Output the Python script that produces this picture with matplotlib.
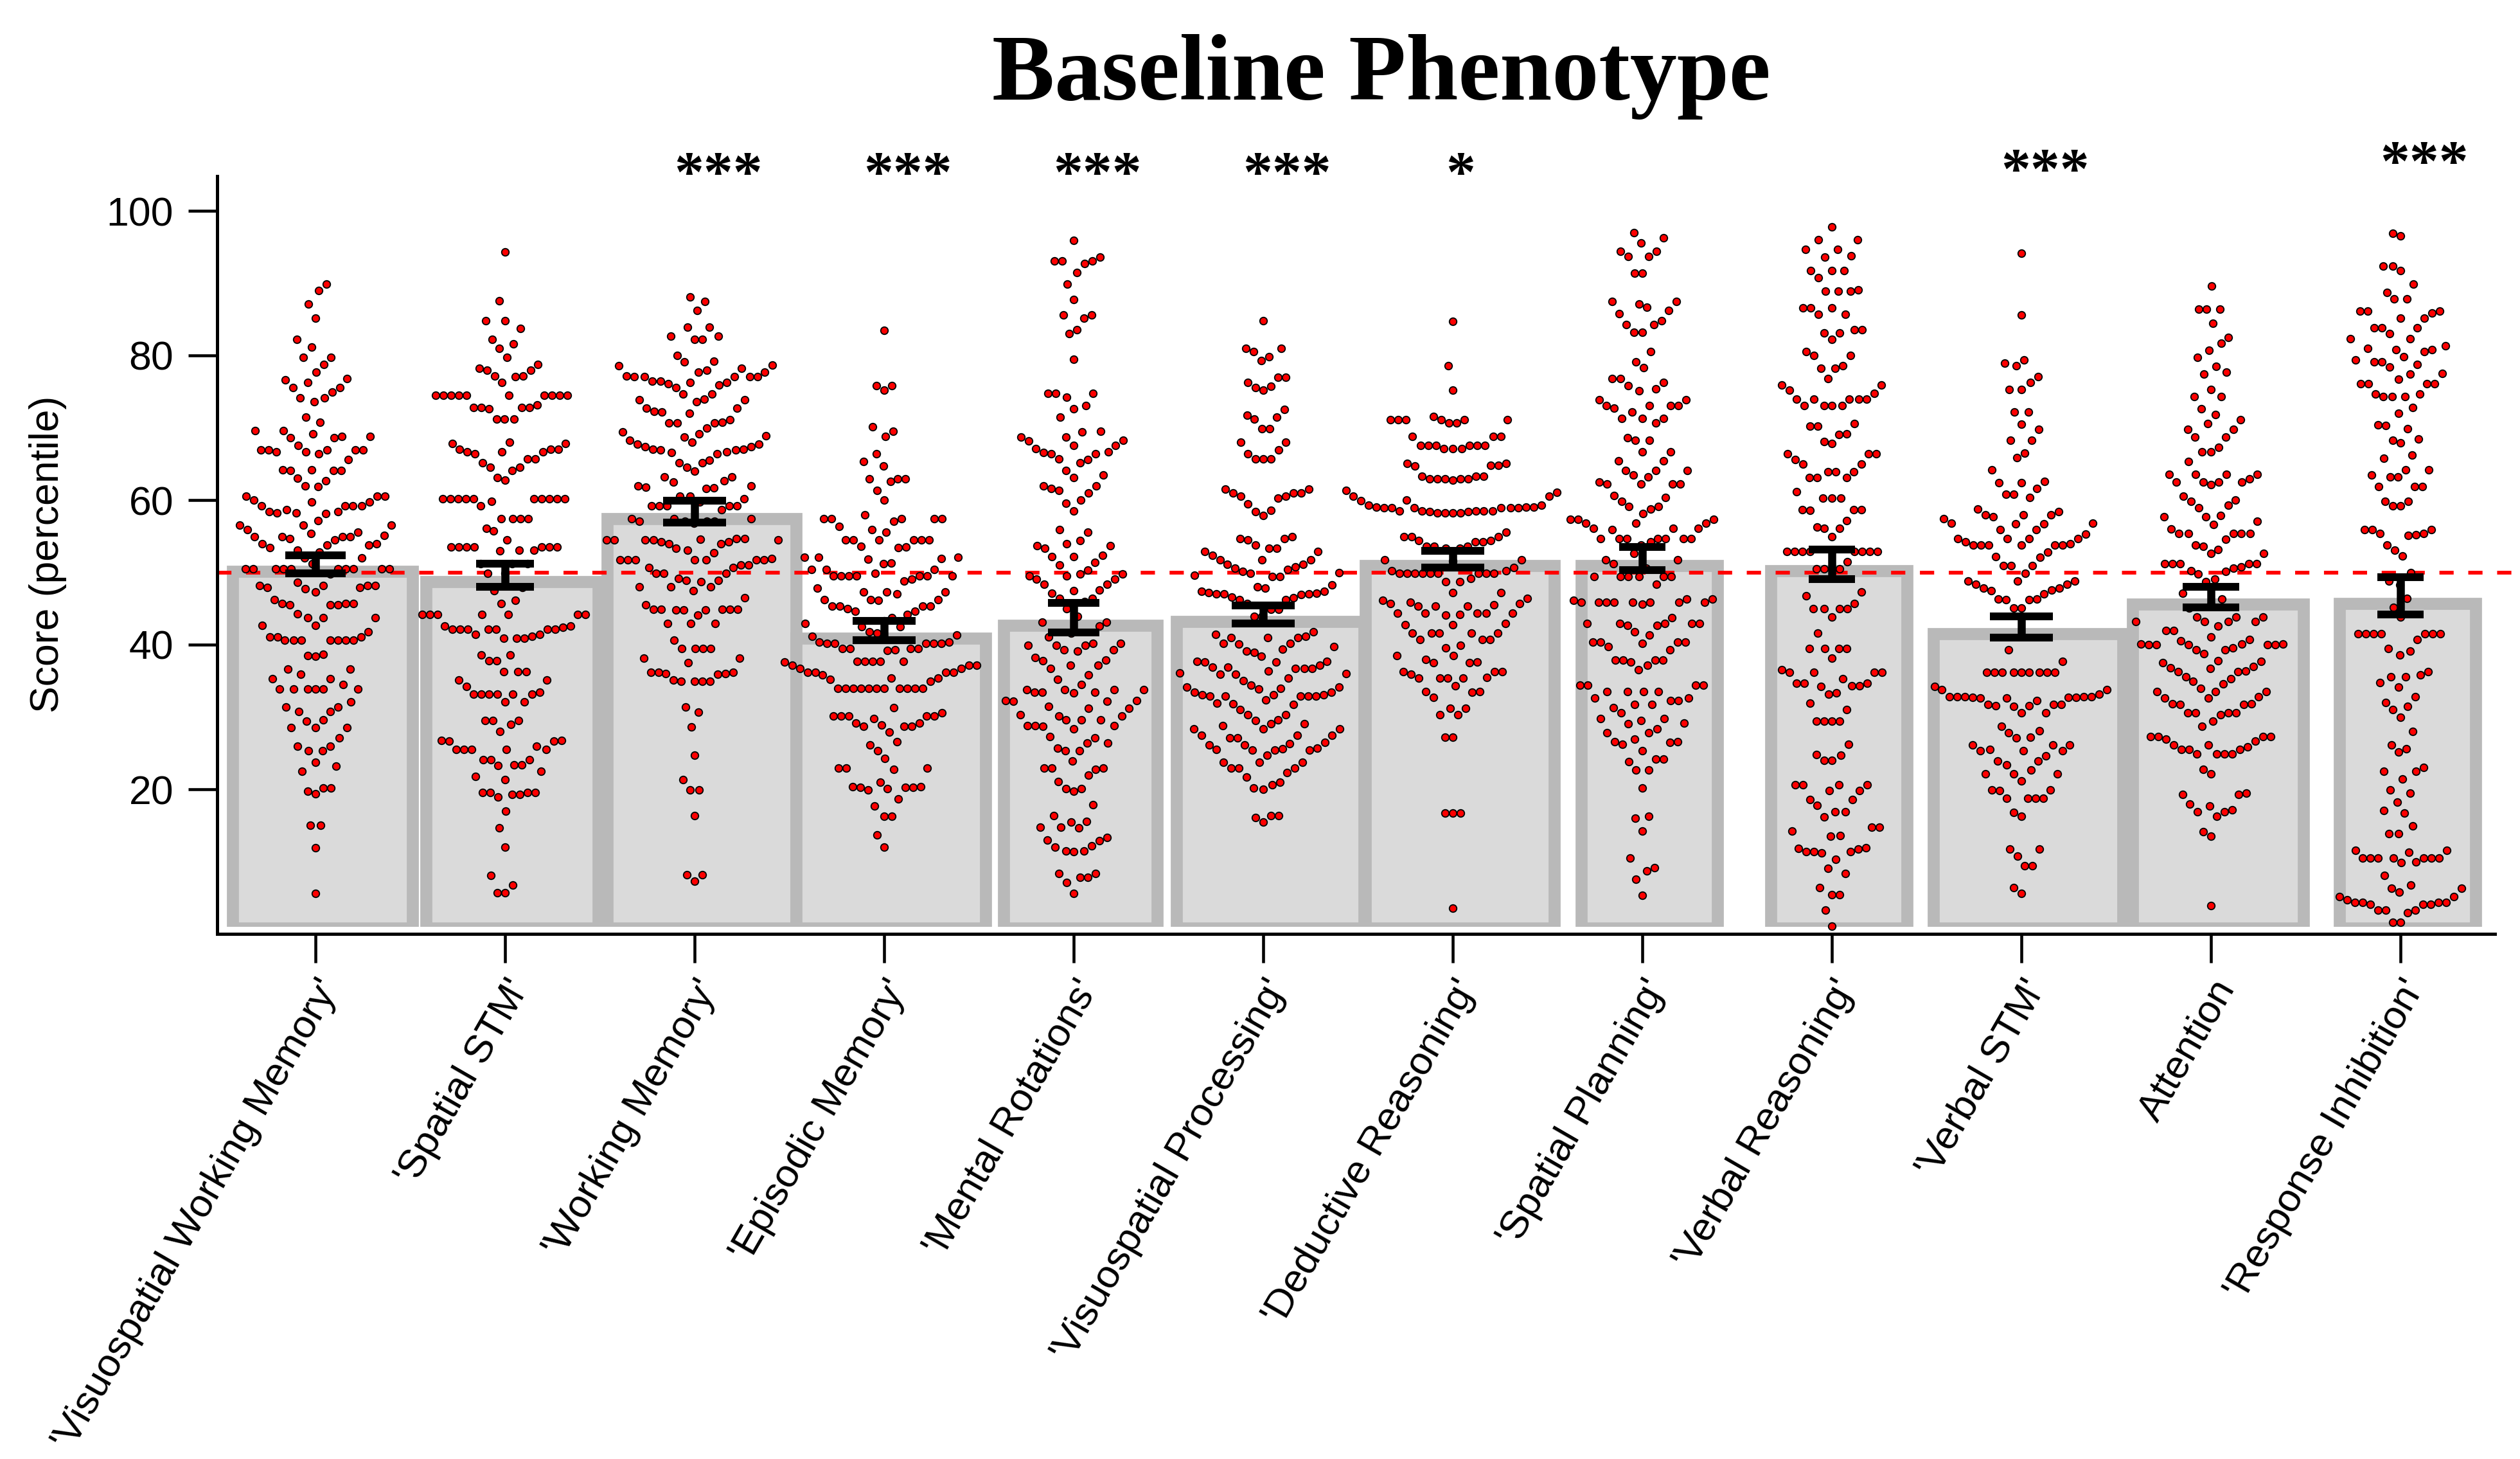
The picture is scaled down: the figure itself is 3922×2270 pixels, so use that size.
import numpy as np
import matplotlib
matplotlib.use("Agg")
import matplotlib.pyplot as plt
from matplotlib.patches import Rectangle

# categorias del eje x
categories = ["'Visuospatial Working Memory'", "'Spatial STM'", "'Working Memory'",
              "'Episodic Memory'", "'Mental Rotations'", "'Visuospatial Processing'",
              "'Deductive Reasoning'", "'Spatial Planning'", "'Verbal Reasoning'",
              "'Verbal STM'", "Attention", "'Response Inhibition'"]

# altura de las barras y limites del error
bar_tops = [50.1, 48.7, 57.4, 40.9, 42.7, 43.2, 50.9, 50.9, 50.2, 41.5, 45.6, 45.7]
err_low = [49.9, 48.0, 56.9, 40.6, 41.7, 42.9, 50.7, 50.3, 49.1, 41.0, 45.2, 44.2]
err_high = [52.4, 51.2, 59.9, 43.3, 45.8, 45.4, 53.0, 53.5, 53.2, 43.9, 48.0, 49.3]

# significancia
stars = ["", "", "***", "***", "***", "***", "*", "", "", "***", "", "***"]
star_y = [None, None, 102.7, 102.7, 102.7, 102.7, 102.7, None, None, 103.1, None, 104.2]

# puntajes individuales (percentil) por prueba
vis_working_memory = [
    89.9, 89.0, 87.1, 85.2, 82.2, 81.2, 79.7, 79.7, 78.8, 77.7, 76.8, 76.6, 76.3, 75.6, 75.6,
    74.9, 74.1, 74.1, 73.6, 71.5, 70.8, 69.6, 69.6, 69.2, 68.8, 68.8, 68.6, 68.6, 67.6,
    66.9, 66.9, 66.9, 66.9, 66.9, 66.7, 66.7, 66.4, 65.6, 64.2, 64.2, 64.1, 64.1, 64.1,
    63.0, 62.7, 62.0, 61.9, 60.5, 60.5, 60.5, 60.0, 59.7, 59.7, 59.2, 59.2, 59.2, 59.2,
    58.7, 58.4, 58.4, 58.2, 58.2, 58.1, 57.2, 56.5, 56.5, 56.5, 55.9, 55.6, 55.4, 55.1,
    54.9, 54.9, 54.9, 54.9, 54.7, 54.5, 54.0, 54.0, 53.8, 53.8, 53.4, 53.1, 52.8, 52.0, 52.0,
    51.2, 50.5, 50.5, 50.5, 50.5, 50.5, 50.5, 50.5, 50.5, 50.5, 50.5, 49.8, 48.6,
    48.2, 48.2, 48.2, 48.2, 47.9, 47.9, 47.7, 47.3, 46.2, 45.7, 45.7, 45.7, 45.5, 45.5, 45.5,
    44.3, 43.7, 43.7, 43.7, 42.7, 42.7, 41.8, 41.1, 41.1, 41.1,
    40.6, 40.6, 40.6, 40.6, 40.6, 40.6, 40.6, 38.7, 38.5, 38.4, 36.6, 36.6, 35.9, 35.3, 35.3,
    34.5, 33.9, 33.9, 33.9, 33.9, 33.9, 33.9, 32.1, 31.4, 31.4, 30.8, 30.8, 29.6, 29.4,
    28.5, 28.5, 28.5, 27.1, 26.0, 26.0, 25.3, 25.3, 23.7, 23.2, 22.5, 20.2, 20.2, 19.7, 19.4,
    15.0, 15.0, 11.9, 5.6]

spatial_stm = [
    94.3, 87.6, 84.8, 84.8, 83.7, 82.2, 81.6, 81.0, 79.7, 78.8, 78.0, 78.0, 78.2, 77.2, 77.2,
    77.1, 76.3, 74.5, 74.5, 74.5, 74.5, 74.5, 74.5, 74.5, 74.5, 74.5, 74.5,
    73.2, 72.8, 72.8, 72.8, 72.8, 72.6, 71.2, 71.2, 71.2, 68.0, 67.8, 67.8, 67.0, 67.0, 67.0,
    66.7, 66.7, 66.7, 66.4, 65.7, 65.7, 65.2, 64.5, 64.5, 64.1, 63.1, 62.8,
    60.2, 60.2, 60.2, 60.2, 60.2, 60.2, 60.2, 60.2, 60.2, 60.2, 59.8, 59.2,
    57.4, 57.4, 57.4, 57.4, 56.1, 55.7, 54.5, 53.5, 53.5, 53.5, 53.5, 53.5, 53.5, 53.5,
    53.1, 53.1, 53.0, 51.2, 51.2, 51.2, 49.9, 49.9, 47.9, 47.5, 46.1, 45.7,
    44.2, 44.2, 44.2, 44.2, 44.2, 44.2, 44.2, 42.6, 42.6, 42.4,
    42.1, 42.1, 42.1, 42.1, 42.1, 42.1, 42.1, 41.4, 41.4, 41.2, 40.9, 40.9, 40.9,
    38.6, 38.6, 37.8, 37.8, 36.3, 36.3, 36.3, 35.1, 35.1, 34.2, 33.4,
    33.2, 33.2, 33.2, 33.2, 33.2, 33.2, 32.1, 32.1, 29.5, 29.5, 29.5, 29.0, 28.0,
    26.8, 26.8, 26.7, 26.7, 26.0, 25.5, 25.5, 25.5, 25.5, 25.5, 24.1, 24.1, 24.1,
    23.4, 23.4, 23.3, 22.5, 21.8, 21.3, 19.6, 19.6, 19.6, 19.6, 19.3, 19.3, 18.9,
    17.0, 14.7, 12.0, 8.1, 6.8, 5.7, 5.7]

working_memory = [
    79.1, 77.1, 77.1, 77.1, 77.1, 76.1, 75.6, 73.9, 73.9, 72.2, 70.8, 69.4, 68.9, 68.3,
    67.7, 67.7, 66.9, 66.9, 66.7, 65.5, 62.5, 61.8, 61.6, 59.7, 59.2, 59.2, 57.4, 57.4, 57.4,
    56.8, 54.5, 54.5, 54.5, 54.5, 54.5, 54.2, 53.1, 52.7, 51.7, 51.7, 51.7, 50.7, 49.2,
    48.9, 48.9, 48.0, 46.5, 44.8, 44.8, 35.9,
    88.1, 87.5, 86.2, 83.9, 83.9, 82.7, 82.7, 82.2, 82.2, 80.0, 79.2, 78.6, 78.7, 78.2,
    77.7, 77.7, 78.0, 77.2, 77.1, 76.3, 76.3, 76.4, 76.4, 75.9, 74.7, 74.7, 74.0, 73.6,
    72.7, 72.7, 72.3, 72.0, 71.1, 70.7, 70.7, 70.7, 70.0, 69.2, 68.7, 68.0, 67.4, 67.4,
    67.0, 67.0, 66.6, 66.4, 65.2, 65.2, 64.5, 64.0, 63.2, 63.2, 62.7, 62.0, 62.0, 61.7,
    60.5, 60.5, 60.2, 59.2, 59.2, 59.2, 58.7, 57.1, 57.1, 57.1, 57.1, 54.7, 54.7, 54.2,
    54.0, 54.0, 54.6, 53.3, 51.7, 51.7, 51.7, 51.7, 51.9, 51.0, 51.0, 50.7, 49.9, 49.9, 49.9,
    48.7, 48.0, 48.0, 47.5, 45.5, 44.9, 44.9, 44.9, 44.9, 44.9, 44.8, 44.1, 42.9, 42.9, 42.9,
    40.6, 39.5, 39.5, 39.5, 39.5, 38.1, 38.1, 37.5, 36.0, 36.0, 34.9, 34.9, 34.9, 34.9,
    35.1, 36.2, 36.2, 36.2, 30.7, 31.4, 28.6, 24.7, 21.3, 19.9, 19.9, 16.4, 8.2, 8.2, 7.3]

episodic_memory = [
    83.5, 75.8, 75.8, 75.2, 70.1, 69.5, 68.8, 66.4, 65.3, 64.7, 62.9, 62.9, 62.9, 62.6,
    61.3, 60.0, 58.0, 57.4, 57.4, 57.4, 57.4, 57.4, 57.1, 55.9, 55.6, 56.4,
    54.5, 54.5, 54.5, 54.5, 54.5, 54.5, 53.4, 53.5, 53.6, 52.1, 52.1, 52.1, 51.9, 51.8,
    51.3, 51.2, 50.4, 50.4, 50.4, 49.9, 49.5, 49.5, 49.5, 49.5, 49.5, 49.5, 49.5,
    49.1, 48.8, 47.8, 47.3, 47.3, 47.3, 47.0, 46.2, 46.2, 46.2, 46.1, 45.3, 45.3, 45.3, 45.3,
    45.0, 44.6, 44.6, 44.2, 43.7, 43.3, 42.9, 42.5, 42.5, 41.8, 41.3,
    40.2, 40.2, 40.2, 40.2, 40.2, 41.2, 40.4, 40.4, 39.5, 39.5, 39.5, 39.5, 39.2, 39.3, 41.6,
    37.7, 37.7, 37.7, 37.7, 37.7, 37.6, 37.2, 37.2, 37.2, 36.7, 36.7, 36.2, 36.2, 36.2, 36.2,
    35.8, 35.4, 35.4, 35.2, 34.9,
    34.0, 34.0, 34.0, 34.0, 34.0, 34.0, 34.0, 34.0, 34.0, 34.0, 34.0,
    30.1, 30.1, 30.1, 30.1, 30.1, 30.6, 31.3, 29.2, 29.2, 28.9, 28.7, 28.7, 28.7, 29.8,
    27.9, 26.6, 26.1, 25.3, 24.3, 22.9, 22.9, 22.9, 22.8, 21.0, 20.4, 20.4, 20.3, 20.3, 20.3,
    19.9, 20.1, 18.7, 17.7, 16.3, 16.3, 13.7, 12.0]

mental_rotations = [
    95.9, 93.1, 93.1, 93.1, 93.6, 92.7, 91.5, 89.9, 87.7, 85.6, 85.6, 85.2, 83.6, 83.0,
    79.5, 74.8, 74.8, 74.8, 74.2, 73.1, 72.6, 71.5, 69.5, 69.4, 68.7, 68.7, 68.3, 68.2,
    67.6, 67.6, 67.1, 66.4, 66.4, 66.6, 66.7, 65.6, 65.2, 64.1, 63.5, 63.1, 62.0, 62.0,
    61.6, 61.3, 61.0, 60.0, 59.6, 58.5, 55.9, 55.6, 54.4, 54.0, 53.7, 53.7, 53.3, 52.4,
    52.2, 52.2, 51.0, 50.3, 49.8, 49.8, 49.1, 49.1, 48.4, 48.4, 47.6, 47.5, 47.1, 46.4, 46.4,
    46.0, 45.0, 43.9, 43.1, 43.1, 42.6, 41.1, 40.2, 39.9, 39.9, 39.9, 39.3, 39.3, 39.1,
    38.2, 37.9, 37.2, 37.2, 37.8, 36.7, 35.2, 34.5, 33.8, 33.8, 33.3, 33.4, 33.4, 33.4,
    32.2, 32.2, 31.5, 32.3, 31.2, 31.2, 30.3, 29.6, 29.6, 29.6, 28.8, 28.8, 28.8, 28.4,
    27.3, 27.1, 26.4, 26.4, 25.7, 25.3, 25.3, 23.9, 22.8, 22.9, 22.9, 22.9, 22.0, 21.1,
    20.1, 20.1, 19.7, 17.9, 16.4, 15.6, 15.5, 14.7, 14.8, 14.8, 13.3, 12.9, 12.2, 12.0,
    11.5, 11.4, 8.4, 8.4, 7.8, 7.8, 7.1, 5.6,
    65.7, 51.4, 49.5, 49.5, 41.6, 40.2, 35.8, 33.8, 33.8, 32.3, 30.1, 30.1, 28.7, 13.0, 11.5]

vis_processing = [
    84.8, 81.0, 81.0, 80.5, 79.8, 79.3, 77.0, 77.0, 76.3, 75.7, 75.2, 75.6, 72.5, 71.7,
    71.5, 71.2, 69.9, 69.9, 68.0, 68.0, 66.9, 66.4, 65.7, 65.7, 65.7, 61.5, 61.5,
    61.0, 61.0, 61.0, 60.5, 60.5, 60.3, 59.5, 58.6, 57.9, 58.4, 54.9, 54.7, 54.7, 54.5,
    53.8, 53.3, 53.3, 52.9, 52.9, 52.4, 51.7, 51.7, 51.7, 50.8, 50.6, 49.9, 50.0, 51.1, 51.1,
    50.4, 50.1, 49.6, 49.4, 49.4, 48.3, 48.0, 47.8, 47.4, 47.4, 47.2, 47.0, 47.0, 47.0,
    46.5, 47.1, 46.2, 46.2, 45.7, 46.9, 46.6, 44.9, 44.9, 43.9, 43.9, 41.8, 41.4,
    41.0, 41.0, 41.0, 40.2, 40.2, 40.1, 41.2, 39.7, 39.1, 38.9, 39.4, 38.4, 37.7, 37.7,
    37.6, 37.6, 37.2, 36.7, 36.7, 36.7, 36.1, 36.4, 36.9, 36.9, 35.9, 35.9, 35.0, 34.4,
    36.0, 35.4, 33.9, 33.4, 33.4, 33.1, 33.1, 33.1, 32.9, 32.9, 32.9, 32.9, 32.9,
    34.1, 34.1, 34.0, 32.4, 31.9, 31.8, 31.7, 31.0, 30.3, 30.3, 29.5, 29.6, 29.1, 29.1,
    28.8, 28.4, 28.4, 28.4, 27.5, 27.5, 27.5, 27.1, 27.1, 26.5, 26.3, 26.1, 26.1,
    25.6, 25.7, 25.4, 25.4, 25.4, 25.5, 24.7, 23.7, 23.7, 23.7, 22.9, 22.9, 22.9,
    22.3, 21.7, 21.0, 20.6, 20.2, 20.0, 16.1, 15.5, 16.4, 16.4]

deductive_reasoning = [
    84.7, 78.6, 75.2, 71.6, 71.1, 71.1, 71.1, 71.1, 71.1, 71.1, 70.7, 70.7,
    68.8, 68.8, 68.8, 67.6, 67.6, 67.6, 67.6, 67.6, 67.6, 67.1, 67.1, 67.1,
    65.1, 65.1, 64.7, 64.8, 64.8, 62.9, 62.9, 62.9, 62.9, 62.9, 62.8, 63.3, 63.3, 63.3,
    61.3, 61.1, 60.5, 60.5, 60.0, 59.9, 59.3, 59.3, 58.9, 58.9, 58.9, 58.9, 58.9, 58.9,
    59.0, 59.0, 59.0, 58.4, 58.4, 58.5, 58.5, 58.5, 58.5, 58.5, 58.2, 58.2, 58.2, 58.2,
    54.9, 54.9, 54.9, 54.4, 54.4, 53.6, 53.6, 53.6, 54.2, 54.2, 53.3, 53.3, 55.6,
    51.7, 51.7, 51.6, 50.7, 50.2, 50.2, 49.9, 49.9, 49.9, 49.9, 49.9, 49.9, 49.9, 49.9, 49.9,
    49.2, 48.7, 48.7, 47.2, 47.2, 46.4, 45.9, 45.7, 45.7, 45.5, 45.3, 45.3, 45.3, 46.1,
    44.4, 44.4, 44.4, 44.4, 44.4, 44.1, 44.2, 42.9, 42.8, 42.8, 41.6, 41.6, 41.6, 41.6, 41.6,
    40.7, 40.7, 40.7, 39.6, 39.9, 38.5, 38.5, 38.0, 37.5, 37.5, 37.6, 36.3, 36.3, 36.3,
    35.9, 35.4, 35.4, 35.4, 35.4, 35.5, 34.3, 33.5, 33.5, 33.4, 32.7, 31.2, 31.2,
    30.3, 30.3, 27.2, 27.2, 16.7, 16.7, 16.7, 3.6]

spatial_planning = [
    97.0, 96.3, 95.6, 94.4, 94.4, 93.7, 93.7, 91.4, 91.4, 87.5, 87.5, 87.1, 86.7, 86.2,
    85.8, 84.8, 84.3, 84.3, 83.2, 83.2, 80.5, 79.1, 78.3, 76.8, 76.8, 76.3, 75.8, 75.4,
    75.1, 73.9, 73.9, 73.1, 73.1, 73.1, 73.1, 72.7, 72.2, 71.3, 71.3, 71.3, 70.7, 68.6,
    68.3, 68.3, 66.7, 66.7, 65.4, 65.4, 64.1, 64.1, 64.1, 63.5, 63.2, 62.5,
    62.2, 62.2, 62.2, 62.2, 60.6, 60.4, 59.8, 59.1, 59.1, 58.8, 58.1, 57.3, 57.3, 57.3,
    56.8, 56.8, 56.8, 56.1, 56.1, 56.1, 55.9, 54.7, 54.7, 54.7, 54.7, 54.7, 54.7, 54.7,
    54.2, 53.8, 52.6, 51.7, 51.7, 51.2, 50.6, 49.4, 49.4, 49.4, 49.4, 49.4, 49.4, 48.4,
    45.9, 45.9, 45.9, 45.9, 45.9, 45.9, 45.9, 45.9, 46.1, 45.6, 46.3, 46.3,
    42.9, 42.9, 42.9, 42.9, 42.9, 41.3, 41.8, 42.7, 42.7, 43.7, 40.4, 40.4, 40.4, 40.4,
    40.2, 39.7, 39.3, 37.9, 37.9, 37.9, 37.9, 37.6, 37.2, 36.5, 34.4, 34.4, 34.4, 34.4,
    33.5, 33.5, 33.5, 33.5, 32.3, 32.3, 32.6, 32.6, 31.7, 31.7, 31.3, 30.6, 29.8, 29.8,
    29.5, 29.1, 29.2, 28.4, 27.8, 27.8, 26.6, 26.6, 26.9, 26.5, 26.2, 25.3, 24.2, 24.2,
    23.8, 22.7, 22.7, 20.2, 16.0, 16.3, 14.2, 10.5, 9.2, 8.7, 7.6, 5.3]

verbal_reasoning = [
    97.8, 96.0, 96.0, 94.7, 94.7, 93.8, 93.6, 91.7, 91.7, 91.7, 90.8, 89.1, 88.9, 88.9, 88.9,
    86.6, 86.6, 86.6, 85.7, 85.7, 83.6, 83.6, 83.1, 83.1, 82.2, 80.5, 80.0, 80.0,
    78.2, 78.2, 78.6, 76.8, 75.9, 75.9, 75.2, 74.8, 74.0, 74.0, 74.0, 74.0, 74.0,
    73.1, 73.1, 73.1, 73.1, 70.6, 70.2, 70.2, 69.1, 69.2, 68.1, 67.8, 66.4, 66.4, 66.4,
    65.6, 65.0, 65.0, 63.9, 63.9, 63.9, 63.1, 63.1, 63.1, 61.2, 60.3, 60.3, 60.3,
    58.7, 58.7, 58.7, 58.6, 57.2, 56.1, 56.1, 56.3, 54.9,
    52.9, 52.9, 52.9, 52.9, 52.9, 52.9, 52.9, 52.9, 51.5, 50.5, 50.5, 50.5, 50.5,
    47.3, 46.8, 45.7, 45.0, 45.0, 45.0, 45.0, 43.8, 41.6, 39.5, 39.5, 39.5, 39.5, 38.1,
    36.5, 36.2, 36.2, 36.2, 36.2, 35.3, 34.7, 34.7, 34.7, 34.3, 34.3, 34.2, 33.2, 33.3,
    31.9, 31.0, 29.4, 29.4, 29.4, 29.4, 26.2, 24.7, 24.0, 24.0, 24.8, 20.6, 20.6, 20.6, 20.6,
    19.8, 19.8, 18.6, 18.6, 17.8, 16.9, 16.9, 16.2, 14.8, 14.8, 14.2, 13.6, 13.5, 11.7, 11.8,
    11.4, 11.4, 11.4, 11.9, 11.2, 10.3, 9.1, 8.4, 6.4, 5.4, 5.4, 3.3, 1.1]

verbal_stm = [
    78.9, 76.3, 72.2, 68.3, 66.5, 62.6, 61.6, 60.4, 58.8, 57.7, 57.4, 56.8, 56.7, 55.9, 55.9,
    54.7, 54.7, 54.2, 54.0, 53.8, 52.8, 52.2, 50.9, 50.9, 50.9, 49.9, 48.8, 48.8, 48.4,
    47.8, 47.5, 47.0, 45.1, 39.3, 37.7, 36.2, 36.2, 36.2, 36.2, 36.2, 33.8, 33.8, 32.8, 32.8,
    32.3, 31.7, 30.6, 31.6, 31.5, 32.8, 32.8, 32.8, 28.1, 27.8, 27.2, 25.3, 25.3, 23.9, 23.9,
    23.4, 22.7, 22.1, 21.2, 19.9, 18.8, 18.8, 19.8, 16.3, 11.7, 9.4,
    94.1, 85.6, 79.4, 78.6, 77.1, 75.3, 75.3, 72.2, 70.5, 69.8, 68.3, 65.9, 64.2, 62.4, 62.4,
    60.8, 60.8, 58.0, 58.0, 58.0, 56.8, 56.7, 55.3, 54.7, 54.7, 53.8, 53.8, 53.8, 53.8, 53.8,
    52.1, 58.4, 48.8, 48.4, 47.8, 47.6, 46.3, 46.3, 46.2, 46.2, 45.1, 36.2, 36.2, 36.2, 36.2,
    32.7, 32.7, 33.2, 31.7, 31.7, 32.7, 34.2, 32.6, 32.6, 31.6, 30.6, 28.7, 27.1,
    26.1, 26.1, 26.1, 25.5, 25.3, 24.6, 22.1, 22.1, 19.9, 18.8, 18.8, 16.8, 11.7, 10.8,
    9.4, 6.4, 5.6]

attention = [
    89.6, 86.4, 86.4, 86.4, 84.4, 82.5, 81.7, 80.7, 79.7, 78.5, 77.7, 77.4, 75.3, 74.3, 74.3,
    72.6, 71.8, 71.1, 70.6, 69.8, 69.8, 68.7, 68.7, 67.3, 66.7, 66.7, 65.3,
    63.6, 63.6, 63.6, 63.6, 62.5, 62.5, 62.5, 62.1, 62.9, 62.5, 60.5, 60.0, 59.8, 59.3,
    58.9, 57.9, 57.7, 57.7, 57.1, 56.6, 56.0, 55.4, 55.4, 55.4, 55.4, 55.4, 54.6, 53.8,
    53.6, 53.2, 52.6, 52.6, 51.2, 51.2, 51.2, 51.2, 51.2, 50.8, 50.6, 50.1, 50.2, 49.8,
    49.1, 48.7, 47.1, 46.3, 45.1, 45.5, 43.8, 43.8, 43.8, 43.2, 43.2, 43.2, 43.2, 42.6,
    42.0, 42.0, 40.5, 40.7, 40.1, 40.1, 40.1, 40.0, 40.0, 40.0, 40.0, 40.0, 41.1, 39.6,
    39.3, 39.3, 38.8, 37.8, 37.7, 37.5, 37.0, 36.3, 36.3, 36.8, 36.7, 36.4, 35.6, 35.3,
    34.9, 34.6, 34.0, 33.5, 33.5, 33.5, 32.8, 32.6, 32.6, 31.8, 31.8, 31.7, 31.7,
    30.6, 30.6, 30.6, 30.6, 30.3, 29.4, 28.7, 27.3, 27.3, 27.3, 27.3, 26.7, 26.9,
    26.1, 26.1, 25.9, 25.5, 25.5, 25.5, 24.9, 24.9, 24.9, 24.9, 22.8, 22.1, 19.3, 19.3,
    19.5, 16.9, 16.9, 18.0, 16.3, 17.2, 17.7, 14.1, 13.5, 3.9]

response_inhibition = [
    96.9, 96.5, 92.4, 92.4, 91.7, 89.9, 88.7, 87.8, 87.8, 85.9, 86.1, 86.1, 86.1, 85.2, 85.2,
    83.8, 83.8, 83.8, 83.0, 82.3, 82.3, 81.3, 81.0, 80.8, 80.8, 80.5, 79.8, 79.4, 79.1, 79.1,
    78.8, 78.4, 77.5, 77.4, 76.7, 76.1, 76.1, 76.1, 76.1, 74.7, 74.7, 74.3, 74.3, 74.3,
    72.8, 72.0, 70.4, 70.3, 69.9, 68.4, 68.3, 67.9, 66.2, 65.8, 64.2, 64.2, 63.5, 63.2, 63.2,
    61.9, 61.9, 61.9, 59.8, 59.8, 59.2, 59.2, 55.9, 55.9, 55.9, 55.4, 55.4, 55.2, 55.1,
    53.8, 53.1, 52.3, 50.0, 48.8, 48.3, 46.4, 45.2, 43.8, 41.5, 41.5, 41.5, 41.5, 41.5, 41.5, 41.5,
    40.7, 39.5, 39.1, 38.6, 35.6, 35.6, 36.3, 35.8, 34.8, 34.1, 32.8, 31.5, 32.0, 31.0,
    30.0, 28.0, 26.1, 25.6, 25.2, 23.0, 22.5, 22.5, 21.4, 19.9, 19.5, 18.2, 17.1, 16.7,
    14.9, 13.9, 13.9, 10.5, 10.5, 11.3, 10.5, 10.5, 10.5, 10.5, 11.6, 11.6, 10.5, 10.0, 9.9,
    8.1, 6.3, 6.8, 6.3, 5.8, 4.4, 4.4, 5.2, 5.2, 4.4, 4.4, 4.1, 4.1, 4.1, 4.7,
    3.3, 3.3, 3.3, 2.9, 1.6, 1.6]

scores = [vis_working_memory, spatial_stm, working_memory, episodic_memory, mental_rotations,
          vis_processing, deductive_reasoning, spatial_planning, verbal_reasoning, verbal_stm,
          attention, response_inhibition]

# estilo
bar_widths = [0.95, 0.91, 0.995, 1.0, 0.81, 0.99, 0.995, 0.72, 0.72, 1.0, 0.90, 0.72]
BAR_SHIFT = 0.037
BAR_BASE = 0.76
DOT_PT = 2.75      # diametro del punto en puntos
GAP_PX = 12.0      # separacion horizontal entre puntos del enjambre (px)
Y_SQUASH = 0.25    # el enjambre se calcula con el eje y comprimido


def swarm_offsets(y_px, d):
    """Desplazamientos horizontales (px) de un enjambre, estilo beeswarm."""
    order = np.argsort(y_px, kind="mergesort")
    px, py = [], []
    offs = np.zeros(len(y_px))
    for i in order:
        y = y_px[i]
        near = [(x, yy) for x, yy in zip(px, py) if abs(yy - y) < d]
        cands = [0.0]
        for x, yy in near:
            dx = np.sqrt(d * d - (yy - y) ** 2)
            cands += [x - dx, x + dx]
        cands.sort(key=abs)
        best = cands[0]
        for c in cands:
            if all((c - x) ** 2 + (yy - y) ** 2 >= d * d - 1e-6 for x, yy in near):
                best = c
                break
        offs[i] = best
        px.append(best)
        py.append(y)
    return offs


W, H, DPI = 3922, 2270, 300
fig = plt.figure(figsize=(W / DPI, H / DPI), dpi=DPI)
ax = fig.add_axes([338 / W, (H - 1453) / H, (3908 - 338) / W, (1453 - 274) / H])
xmin, xmax = -0.5186, 11.583
ax.set_xlim(xmin, xmax)
ax.set_ylim(0, 104.8)

x = np.arange(len(categories))

# barras
bars = ax.bar(x + BAR_SHIFT, np.array(bar_tops) - BAR_BASE, width=bar_widths, bottom=BAR_BASE,
              color="#dadada", edgecolor="#b9b9b9", linewidth=4.5, zorder=1)
clip = Rectangle((xmin - 1, 0.95), xmax - xmin + 2, 200, transform=ax.transData)
for b in bars:
    b.set_clip_path(clip)

# linea de referencia en 50
ax.plot([xmin, 11.6], [50, 50], color="red", lw=1.4, ls=(0, (3.8, 3.9)),
        clip_on=False, zorder=2)

# enjambre de puntos
p0 = ax.transData.transform((0, 0))
p1 = ax.transData.transform((1, 1))
sx, sy = p1[0] - p0[0], p1[1] - p0[1]
for i, vals in enumerate(scores):
    vals = np.array(vals)
    offs = swarm_offsets(vals * sy * Y_SQUASH, GAP_PX)
    ax.scatter(i + offs / sx, vals, s=DOT_PT ** 2, c="red", edgecolors="black",
               linewidths=0.45, zorder=3, clip_on=False)

# barras de error
half = 0.1675 * np.array(bar_widths)
ax.vlines(x, err_low, err_high, color="black", lw=3.0, zorder=4)
ax.hlines(err_low, x - half, x + half, color="black", lw=2.9, zorder=4)
ax.hlines(err_high, x - half, x + half, color="black", lw=2.9, zorder=4)

# asteriscos
for i, (s, yy) in enumerate(zip(stars, star_y)):
    if s:
        dx = 0.125 if len(s) == 3 else 0.04
        ax.text(i + dx, yy, s, ha="center", va="baseline", fontsize=22,
                fontweight="bold", family="Liberation Serif", clip_on=False)

# ejes
for side in ["top", "right"]:
    ax.spines[side].set_visible(False)
for side in ["left", "bottom"]:
    ax.spines[side].set_linewidth(1.2)
ax.spines["bottom"].set_bounds(xmin, 11.498)

ax.set_yticks([20, 40, 60, 80, 100])
ax.set_xticks(x)
ax.set_xticklabels(categories, rotation=60, ha="right", va="top", rotation_mode="anchor",
                   fontsize=14.8, family="Liberation Sans")
for lab in ax.get_yticklabels():
    lab.set_fontsize(15)
    lab.set_family("Liberation Sans")
ax.tick_params(axis="both", length=10.8, width=1.1)
ax.tick_params(axis="x", pad=4.0)
ax.tick_params(axis="y", pad=5.5)

fig.text(75 / W, 1 - 862 / H, "Score (percentile)", rotation=90, ha="center", va="center",
         fontsize=15, family="Liberation Sans")
fig.text(2150 / W, 1 - 155 / H, "Baseline Phenotype", ha="center", va="baseline",
         fontsize=35, fontweight="bold", family="Liberation Serif")

fig.savefig("out.png", dpi=DPI)
